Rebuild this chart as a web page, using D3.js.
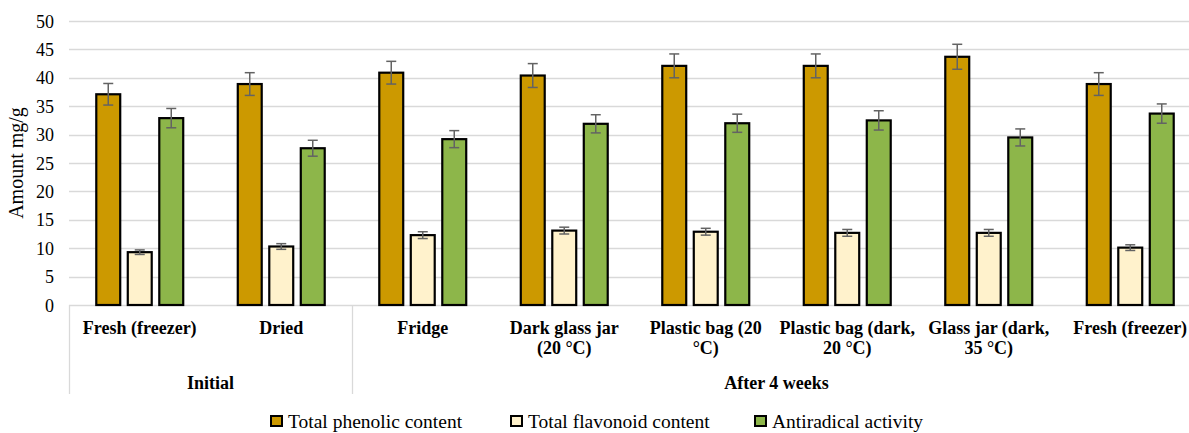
<!DOCTYPE html>
<html>
<head>
<meta charset="utf-8">
<script src="https://cdn.jsdelivr.net/npm/d3@7/dist/d3.min.js"></script>
<style>
  html, body { margin: 0; padding: 0; background: #fff; }
  svg { display: block; font-family: "Liberation Serif", "Times New Roman", serif; }
</style>
</head>
<body>
<svg id="chart" width="1189" height="433"></svg>
<script>
// Storage conditions (label lines as wrapped under the axis)
const categories = [
  ["Fresh (freezer)"],
  ["Dried"],
  ["Fridge"],
  ["Dark glass jar", "(20 °C)"],
  ["Plastic bag (20", "°C)"],
  ["Plastic bag (dark,", "20 °C)"],
  ["Glass jar (dark,", "35 °C)"],
  ["Fresh (freezer)"]
];
// Outer grouping of the categories: [label, number of categories]
const groups = [["Initial", 2], ["After 4 weeks", 6]];

const seriesNames = ["Total phenolic content", "Total flavonoid content", "Antiradical activity"];
const seriesColors = ["#cc9900", "#fff2cc", "#8db64a"];

// Means (mg/g)
const phenolic    = [37.1, 38.9, 40.9, 40.4, 42.1, 42.1, 43.7, 38.9];
const flavonoid   = [9.3, 10.3, 12.3, 13.1, 12.9, 12.7, 12.7, 10.1];
const antiradical = [32.9, 27.6, 29.2, 31.9, 32.0, 32.5, 29.5, 33.7];
// Error bar half-widths
const phenolicErr    = [1.9, 2.0, 2.0, 2.1, 2.1, 2.1, 2.2, 2.0];
const flavonoidErr   = [0.4, 0.5, 0.6, 0.6, 0.6, 0.6, 0.6, 0.5];
const antiradicalErr = [1.7, 1.4, 1.5, 1.6, 1.6, 1.7, 1.5, 1.7];

const yTicks = [0, 5, 10, 15, 20, 25, 30, 35, 40, 45, 50];

const values = [phenolic, flavonoid, antiradical];
const errors = [phenolicErr, flavonoidErr, antiradicalErr];

const svg = d3.select("#chart");
const plot = { left: 69, right: 1201, top: 21, bottom: 305 };

const x = d3.scaleBand()
  .domain(d3.range(categories.length))
  .range([plot.left, plot.right])
  .padding(0);

const xInner = d3.scaleBand()
  .domain(d3.range(seriesNames.length))
  .range([0, x.bandwidth()])
  .paddingInner(0.24)
  .paddingOuter(0.866);

const y = d3.scaleLinear().domain([0, 50]).range([plot.bottom, plot.top]);

// Horizontal gridlines
svg.append("g")
  .selectAll("line")
  .data(yTicks)
  .join("line")
  .attr("x1", plot.left)
  .attr("x2", plot.right)
  .attr("y1", d => Math.round(y(d)) + 0.5)
  .attr("y2", d => Math.round(y(d)) + 0.5)
  .attr("stroke", "#d9d9d9")
  .attr("stroke-width", 1.3);

// Y axis labels
const yAxis = d3.axisLeft(y).tickValues(yTicks).tickSize(0).tickPadding(0);
const yAxisG = svg.append("g")
  .attr("transform", `translate(${plot.left - 15},0)`)
  .call(yAxis);
yAxisG.select(".domain").remove();
yAxisG.selectAll("text")
  .attr("font-family", "Liberation Serif, Times New Roman, serif")
  .attr("font-size", 18)
  .attr("fill", "#000")
  .attr("dy", "0.34em");

// Y axis title
svg.append("text")
  .attr("transform", `translate(23,${(plot.top + plot.bottom) / 2}) rotate(-90)`)
  .attr("text-anchor", "middle")
  .attr("font-size", 20)
  .attr("fill", "#000")
  .text("Amount mg/g");

// Bars
const bars = svg.append("g");
values.forEach((vals, s) => {
  bars.append("g")
    .selectAll("rect")
    .data(vals)
    .join("rect")
    .attr("x", (d, i) => x(i) + xInner(s))
    .attr("width", xInner.bandwidth())
    .attr("y", d => y(d))
    .attr("height", d => y(0) - y(d))
    .attr("fill", seriesColors[s])
    .attr("stroke", "#000")
    .attr("stroke-width", 2.2);
});

// Error bars
const errG = svg.append("g").attr("stroke", "#636363").attr("stroke-width", 1.5);
values.forEach((vals, s) => {
  vals.forEach((v, i) => {
    const cx = x(i) + xInner(s) + xInner.bandwidth() / 2;
    const e = errors[s][i];
    errG.append("line").attr("x1", cx).attr("x2", cx).attr("y1", y(v + e)).attr("y2", y(v - e));
    errG.append("line").attr("x1", cx - 5).attr("x2", cx + 5).attr("y1", y(v + e)).attr("y2", y(v + e));
    errG.append("line").attr("x1", cx - 5).attr("x2", cx + 5).attr("y1", y(v - e)).attr("y2", y(v - e));
  });
});

// Category labels
const catG = svg.append("g")
  .attr("font-weight", "bold")
  .attr("font-size", 18)
  .attr("text-anchor", "middle")
  .attr("fill", "#000");
categories.forEach((lines, i) => {
  const t = catG.append("text")
    .attr("x", x(i) + x.bandwidth() / 2)
    .attr("y", 334);
  lines.forEach((ln, k) => {
    t.append("tspan")
      .attr("x", x(i) + x.bandwidth() / 2)
      .attr("dy", k === 0 ? 0 : 20)
      .text(ln);
  });
});

// Group separators and labels
let start = 0;
const sepG = svg.append("g").attr("stroke", "#d9d9d9").attr("stroke-width", 1.3);
const bounds = [0];
groups.forEach(([label, n]) => {
  const x0 = x(start);
  const x1 = start + n < categories.length ? x(start + n) : plot.right;
  svg.append("text")
    .attr("x", (x0 + x1) / 2)
    .attr("y", 389)
    .attr("text-anchor", "middle")
    .attr("font-weight", "bold")
    .attr("font-size", 18)
    .attr("fill", "#000")
    .text(label);
  start += n;
  bounds.push(start);
});
bounds.forEach(b => {
  const bx = b < categories.length ? x(b) : plot.right;
  sepG.append("line")
    .attr("x1", Math.round(bx) + 0.5).attr("x2", Math.round(bx) + 0.5)
    .attr("y1", plot.bottom).attr("y2", 394);
});

// Legend
const legendX = [270, 510, 754];
const legend = svg.append("g");
seriesNames.forEach((name, s) => {
  const g = legend.append("g").attr("transform", `translate(${legendX[s]},414)`);
  g.append("rect")
    .attr("x", 1).attr("y", 2)
    .attr("width", 11).attr("height", 10)
    .attr("fill", seriesColors[s])
    .attr("stroke", "#000")
    .attr("stroke-width", 2);
  g.append("text")
    .attr("x", 18)
    .attr("y", 14)
    .attr("font-size", 19.5)
    .attr("fill", "#000")
    .text(name);
});
</script>
</body>
</html>
